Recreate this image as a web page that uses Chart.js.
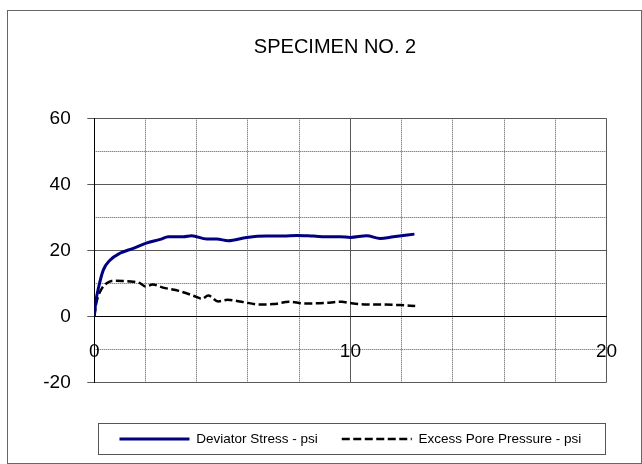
<!DOCTYPE html>
<html><head><meta charset="utf-8">
<script src="https://cdn.jsdelivr.net/npm/chart.js@4.4.1/dist/chart.umd.min.js"></script>
<style>html,body{margin:0;padding:0;background:#fff}#wrap{width:642px;height:464px;position:relative}canvas{display:block}</style>
</head><body><div id="wrap"><canvas id="c" width="642" height="464"></canvas></div>
<script>
const chartTitle = 'SPECIMEN NO. 2';
const seriesNames = ['Deviator Stress - psi', 'Excess Pore Pressure - psi'];
const devStrain = [0, 0.06, 0.16, 0.35, 0.61, 1.0, 1.52, 2.0, 2.57, 2.89, 3.48, 3.8, 4.39, 4.78, 5.23, 5.95, 6.73, 7.38, 7.9, 8.55, 9.2, 9.6, 10.0, 10.64, 11.16, 11.68, 12.5];
const devStress = [0, 4.5, 8.5, 14, 17, 19.1, 20.6, 22.1, 23.3, 24.1, 24.1, 24.4, 23.4, 23.4, 22.9, 23.9, 24.3, 24.3, 24.5, 24.3, 24.1, 24.1, 23.9, 24.4, 23.6, 24.1, 24.9];
const poreStrain = [0, 0.09, 0.3, 0.48, 0.74, 1.13, 1.52, 1.8, 2.0, 2.28, 2.68, 3.3, 3.95, 4.2, 4.45, 4.84, 5.2, 5.75, 6.45, 7.0, 7.6, 8.2, 8.95, 9.66, 10.0, 10.64, 11.2, 11.94, 12.53];
const porePressure = [0, 4.4, 8.5, 10, 10.8, 10.7, 10.5, 10.0, 9.0, 9.6, 8.7, 7.7, 6.0, 5.3, 6.3, 4.5, 5.0, 4.4, 3.6, 3.7, 4.4, 3.9, 4.0, 4.4, 4.0, 3.6, 3.6, 3.4, 3.1];
const xMajorTicks = [0, 10, 20];
const xMinorTicks = [2, 4, 6, 8, 12, 14, 16, 18];
const yMajorTicks = [-20, 0, 20, 40, 60];
const yMinorTicks = [-10, 10, 30, 50];

const FONT = "'Liberation Sans', Arial, sans-serif";
const toPts = (xs, ys) => xs.map((x, i) => ({x: x, y: ys[i]}));
const setTicks = arr => (s => { s.ticks = arr.map(v => ({value: v})); });

const frame = {
  id: 'frame',
  beforeDraw(chart) {
    const c = chart.ctx;
    c.save();
    c.fillStyle = '#fff';
    c.fillRect(0, 0, chart.width, chart.height);
    c.restore();
  },
  afterDraw(chart) {
    const c = chart.ctx;
    const ca = chart.chartArea;
    const hb = chart.legend.legendHitBoxes;
    const cy = hb[0].top + hb[0].height / 2;
    c.save();
    c.strokeStyle = '#555';
    c.lineWidth = 1;
    c.strokeRect(Math.round(ca.left + 3.7) + 0.5, Math.round(cy - 16) + 0.5, Math.round(ca.right - ca.left - 5.2), 31);
    c.strokeStyle = '#666';
    c.strokeRect(7.5, 10.5, 634, 453);
    c.restore();
  }
};

new Chart(document.getElementById('c').getContext('2d'), {
  type: 'scatter',
  data: {
    datasets: [
      {label: seriesNames[0], data: toPts(devStrain, devStress), showLine: true,
       borderColor: '#000080', backgroundColor: '#000080', borderWidth: 3, pointRadius: 0,
       cubicInterpolationMode: 'monotone', xAxisID: 'x', yAxisID: 'y'},
      {label: seriesNames[1], data: toPts(poreStrain, porePressure), showLine: true,
       borderColor: '#000', backgroundColor: '#000', borderWidth: 2.5, borderDash: [8, 3.5], pointRadius: 0,
       cubicInterpolationMode: 'monotone', xAxisID: 'x', yAxisID: 'y'}
    ]
  },
  options: {
    responsive: false, animation: false, devicePixelRatio: 1,
    layout: {padding: {left: 28, right: 0, top: 10, bottom: 8.25}},
    plugins: {
      title: {display: true, text: chartTitle, color: '#000',
              font: {family: FONT, size: 20, weight: 'normal'}, padding: {top: 25, bottom: 59.3}},
      legend: {position: 'bottom', fullSize: false,
               labels: {usePointStyle: true, pointStyle: 'line', pointStyleWidth: 70, boxWidth: 70,
                        padding: 24, color: '#000', font: {family: FONT, size: 13.5},
                        generateLabels(chart) {
                          const items = Chart.defaults.plugins.legend.labels.generateLabels(chart);
                          items.forEach(it => {
                            const ds = chart.data.datasets[it.datasetIndex];
                            it.lineDash = ds.borderDash || [];
                            it.lineWidth = ds.borderWidth;
                            it.strokeStyle = ds.borderColor;
                          });
                          return items;
                        }}},
      tooltip: {enabled: false}
    },
    scales: {
      x: {type: 'linear', position: {y: 0}, min: 0, max: 20, afterBuildTicks: setTicks(xMajorTicks),
          ticks: {font: {family: FONT, size: 19}, color: '#000', padding: 24, maxRotation: 0, autoSkip: false},
          grid: {color: '#595959', lineWidth: 1, drawTicks: false},
          border: {color: '#000', width: 1},
          afterFit: s => { s.height = 0; }},
      x2: {type: 'linear', position: 'bottom', min: 0, max: 20, afterBuildTicks: setTicks(xMinorTicks),
           ticks: {display: false},
           grid: {drawTicks: false, color: '#555', lineWidth: 1},
           border: {display: false, dash: [1, 1]},
           afterFit: s => { s.height = 25.95; }},
      y: {type: 'linear', position: 'left', min: -20, max: 60, afterBuildTicks: setTicks(yMajorTicks),
          ticks: {font: {family: FONT, size: 19}, color: '#000', padding: 16.6},
          grid: {color: '#595959', lineWidth: 1, tickLength: 7, tickColor: '#595959'},
          border: {color: '#000', width: 1},
          afterFit: s => { s.width = 66.3; }},
      y2: {type: 'linear', position: 'right', min: -20, max: 60, afterBuildTicks: setTicks(yMinorTicks),
           ticks: {display: false},
           grid: {drawTicks: false, color: '#555', lineWidth: 1},
           border: {display: false, dash: [1, 1]},
           afterFit: s => { s.width = 35.5; }}
    }
  },
  plugins: [frame]
});
</script>
</body></html>
